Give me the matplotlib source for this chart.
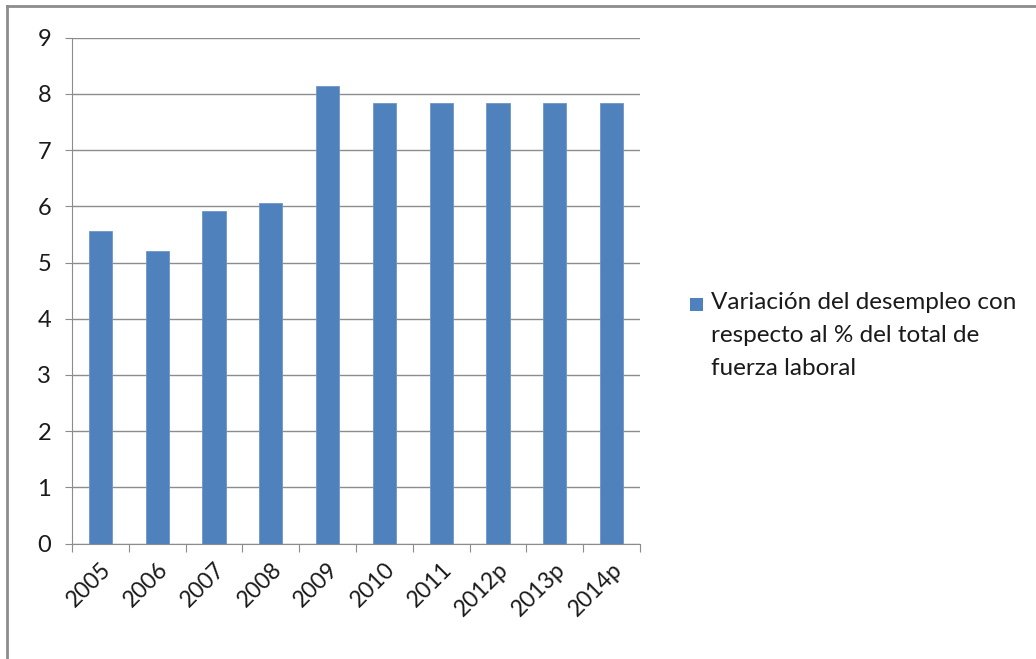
import matplotlib.pyplot as plt
from matplotlib.patches import Rectangle
from matplotlib.lines import Line2D

# datos
years = ["2005", "2006", "2007", "2008", "2009", "2010", "2011", "2012p", "2013p", "2014p"]
desempleo = [5.56, 5.20, 5.92, 6.06, 8.14, 7.83, 7.83, 7.83, 7.83, 7.83]
y_ticks = list(range(0, 10))
legend_label = "Variación del desempleo con\nrespecto al % del total de\nfuerza laboral"

plt.rcParams['font.family'] = ['Lato', 'DejaVu Sans']

fig = plt.figure(figsize=(10.36, 6.59), dpi=100)
ax = fig.add_axes([72 / 1036, 1 - 543.5 / 659, (640 - 72) / 1036, (543.5 - 37.7) / 659])

x = list(range(len(years)))
ax.bar(x, desempleo, width=0.41, color="#4F81BD", edgecolor="#6E96C8", linewidth=0.6, zorder=3)

ax.set_xlim(-0.5, len(years) - 0.5)
ax.set_ylim(0, 9)
ax.set_yticks(y_ticks)
ax.yaxis.grid(True, color="#8C8C8C", linewidth=1.0, zorder=0)

# marcas del eje x en los limites de categoria
ax.set_xticks([i - 0.5 for i in range(len(years) + 1)])
ax.set_xticklabels([])
ax.set_xticks(x, minor=True)
ax.set_xticklabels(years, minor=True, rotation=45, ha="right", va="top",
                   rotation_mode="anchor", fontsize=16.5, color="#1A1A1A")
ax.tick_params(axis="x", which="minor", length=0, pad=11)
ax.tick_params(axis="x", which="major", length=6, color="#8C8C8C")
ax.tick_params(axis="y", length=5, color="#8C8C8C", labelsize=17, pad=10, labelcolor="#1A1A1A")

for s in ["top", "right"]:
    ax.spines[s].set_visible(False)
for s in ["left", "bottom"]:
    ax.spines[s].set_color("#8C8C8C")

# leyenda
fig.add_artist(Rectangle((690 / 1036, 1 - 311 / 659), 13 / 1036, 13 / 659,
                         transform=fig.transFigure, facecolor="#4F81BD", edgecolor="none"))
fig.text(711 / 1036, 1 - 292 / 659, legend_label, fontsize=17.5, va="top", ha="left",
         linespacing=1.72, color="#1A1A1A")

# marco del grafico
fig.add_artist(Line2D([7 / 1036, 1], [1 - 6 / 659, 1 - 6 / 659], transform=fig.transFigure,
                      color="#8C8C8C", linewidth=2))
fig.add_artist(Line2D([7 / 1036, 7 / 1036], [0, 1 - 6 / 659], transform=fig.transFigure,
                      color="#8C8C8C", linewidth=2))

fig.savefig("out.png", dpi=100)
